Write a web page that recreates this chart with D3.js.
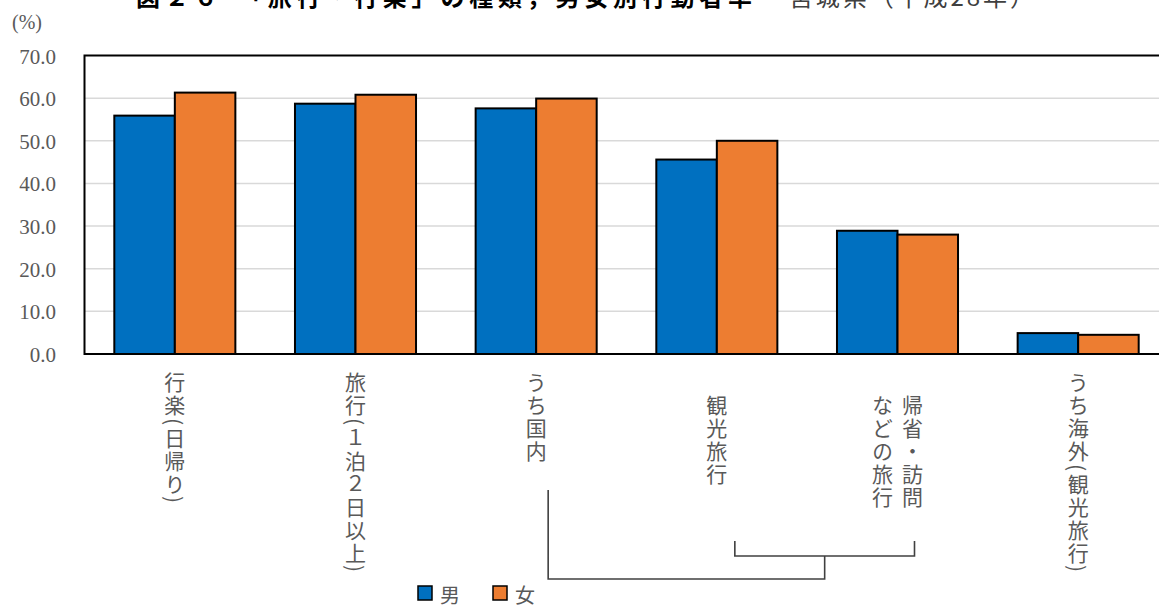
<!DOCTYPE html>
<html>
  <head>
    <meta charset="utf-8">
    <script src="https://d3js.org/d3.v7.min.js"></script>
    <style>
      body { margin: 0; background: #fff; }
    </style>
  </head>
  <body>
    <div id="chart"></div>
    <script>
      // Data
      const categories = ["行楽(日帰り)", "旅行(1泊2日以上)", "うち国内", "観光旅行", "帰省・訪問などの旅行", "うち海外(観光旅行)"];
      const categoryLines = [["行楽(日帰り)"], ["旅行(１泊２日以上)"], ["うち国内"], ["　観光旅行"], ["　帰省・訪問", "　などの旅行"], ["うち海外(観光旅行)"]];
      const seriesNames = ["男", "女"];
      const maleValues = [55.9, 58.7, 57.6, 45.6, 28.9, 4.9];
      const femaleValues = [61.3, 60.8, 59.9, 50.0, 28.0, 4.5];
      const yTicks = [0, 10, 20, 30, 40, 50, 60, 70];
      const colors = ["#0070C0", "#ED7D31"];

      const W = 1159, H = 606;
      const plot = { left: 84.5, right: 1168.5, top: 55.5, bottom: 354 };
      const gray = "#595959";
      const jpFont = "'Noto Sans CJK JP', sans-serif";
      const numFont = "'Liberation Serif', 'DejaVu Serif', serif";

      const svg = d3.select("#chart")
        .append("svg")
        .attr("width", W)
        .attr("height", H);

      // Scales
      const x0 = d3.scaleBand()
        .domain(categories)
        .range([plot.left, plot.right])
        .paddingInner(0.33)
        .paddingOuter(0.165);

      const x1 = d3.scaleBand()
        .domain(seriesNames)
        .range([0, x0.bandwidth()]);

      const y = d3.scaleLinear()
        .domain([0, 70])
        .range([plot.bottom, plot.top]);

      // Title (cut off at the top like the original)
      const title = svg.append("text")
        .attr("x", 136)
        .attr("y", 6)
        .style("font-family", jpFont)
        .style("font-size", "24px")
        .style("fill", "#000");
      title.append("tspan")
        .style("font-weight", "bold")
        .attr("textLength", 616)
        .attr("lengthAdjust", "spacing")
        .text("図２６　「旅行・行楽」の種類，男女別行動者率");
      title.append("tspan")
        .attr("x", 762)
        .attr("textLength", 272)
        .attr("lengthAdjust", "spacing")
        .style("fill", "#404040")
        .text("－宮城県（平成28年）");

      // Unit
      svg.append("text")
        .attr("x", 12)
        .attr("y", 29)
        .style("font-family", numFont)
        .style("font-size", "20px")
        .style("fill", gray)
        .text("(%)");

      // Gridlines
      svg.append("g")
        .selectAll("line")
        .data(yTicks.filter(d => d > 0 && d < 70))
        .join("line")
        .attr("x1", plot.left)
        .attr("x2", plot.right)
        .attr("y1", d => y(d))
        .attr("y2", d => y(d))
        .style("stroke", "#d9d9d9")
        .style("stroke-width", 1.5);

      // Y tick labels
      svg.append("g")
        .selectAll("text")
        .data(yTicks)
        .join("text")
        .attr("x", 56)
        .attr("y", d => y(d) + 1)
        .attr("text-anchor", "end")
        .attr("dominant-baseline", "central")
        .style("font-family", numFont)
        .style("font-size", "21px")
        .style("fill", gray)
        .text(d => d.toFixed(1));

      // Bars
      const groups = svg.append("g")
        .selectAll("g")
        .data(categories.map((c, i) => ({ c, vals: [maleValues[i], femaleValues[i]] })))
        .join("g")
        .attr("transform", d => `translate(${x0(d.c)},0)`);

      groups.selectAll("rect")
        .data(d => d.vals.map((v, j) => ({ name: seriesNames[j], v, j })))
        .join("rect")
        .attr("x", d => x1(d.name))
        .attr("y", d => y(d.v))
        .attr("width", x1.bandwidth())
        .attr("height", d => y(0) - y(d.v))
        .style("fill", d => colors[d.j])
        .style("stroke", "#000")
        .style("stroke-width", 2);

      // Plot frame
      svg.append("rect")
        .attr("x", plot.left)
        .attr("y", plot.top)
        .attr("width", plot.right - plot.left)
        .attr("height", plot.bottom - plot.top)
        .style("fill", "none")
        .style("stroke", "#000")
        .style("stroke-width", 2);

      // Category labels (vertical)
      const colGap = 30;
      categoryLines.forEach((lines, i) => {
        const cx = x0(categories[i]) + x0.bandwidth() / 2;
        lines.forEach((line, k) => {
          const off = (lines.length - 1) / 2 * colGap - k * colGap;
          svg.append("text")
            .attr("x", cx + off)
            .attr("y", 372)
            .style("writing-mode", "vertical-rl")
            .style("font-family", jpFont)
            .style("font-size", "21px")
            .style("letter-spacing", "2px")
            .style("fill", gray)
            .text(line);
        });
      });

      // Brackets linking sub-categories
      const cx = c => x0(c) + x0.bandwidth() / 2;
      const innerL = cx(categories[3]) + 18;
      const innerR = cx(categories[4]) + 17;
      const innerMid = (innerL + innerR) / 2;
      const outerL = cx(categories[2]) + 12;
      const bracket = d3.path();
      bracket.moveTo(innerL, 541);
      bracket.lineTo(innerL, 556);
      bracket.lineTo(innerR, 556);
      bracket.lineTo(innerR, 541);
      bracket.moveTo(innerMid, 556);
      bracket.lineTo(innerMid, 579);
      bracket.lineTo(outerL, 579);
      bracket.lineTo(outerL, 490);
      svg.append("path")
        .attr("d", bracket.toString())
        .style("fill", "none")
        .style("stroke", "#404040")
        .style("stroke-width", 1.6);

      // Legend
      const legend = svg.append("g")
        .selectAll("g")
        .data(seriesNames)
        .join("g")
        .attr("transform", (d, i) => `translate(${418 + i * 75},586)`);
      legend.append("rect")
        .attr("width", 14)
        .attr("height", 14)
        .style("fill", (d, i) => colors[i])
        .style("stroke", "#000")
        .style("stroke-width", 1.5);
      legend.append("text")
        .attr("x", 22)
        .attr("y", 8)
        .attr("dominant-baseline", "central")
        .style("font-family", jpFont)
        .style("font-size", "20px")
        .style("fill", gray)
        .text(d => d);
    </script>
  </body>
</html>
